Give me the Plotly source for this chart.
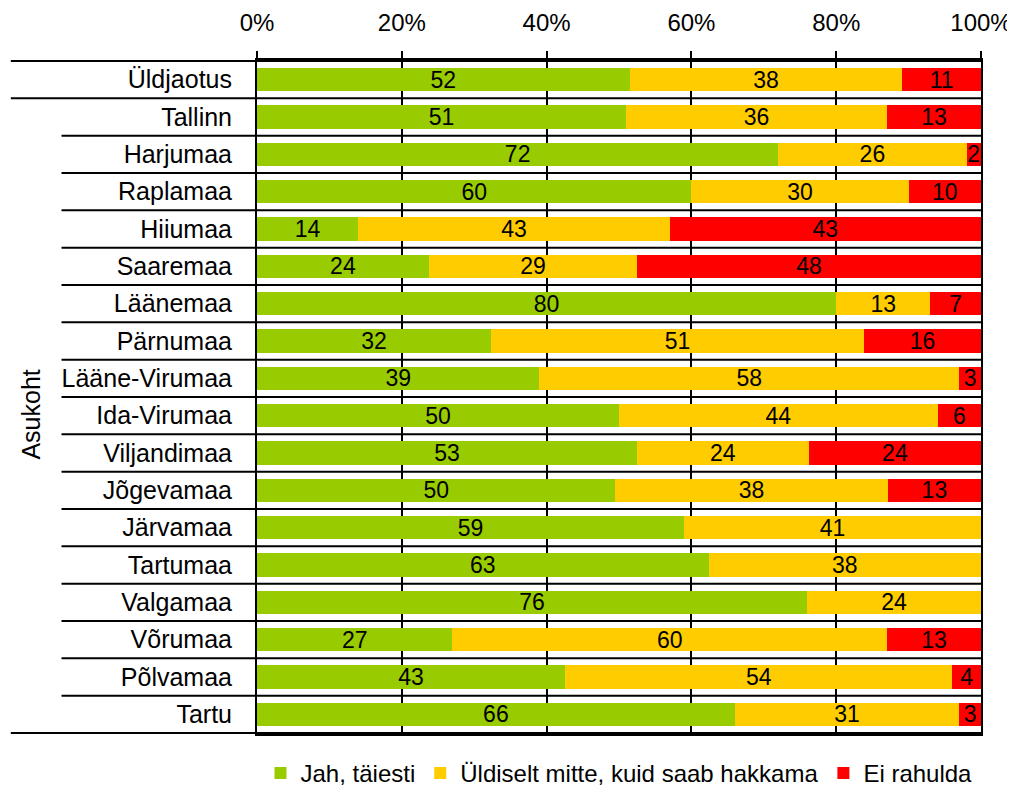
import plotly.graph_objects as go

# data, top to bottom
places = ["Üldjaotus", "Tallinn", "Harjumaa", "Raplamaa", "Hiiumaa", "Saaremaa",
          "Läänemaa", "Pärnumaa", "Lääne-Virumaa", "Ida-Virumaa", "Viljandimaa",
          "Jõgevamaa", "Järvamaa", "Tartumaa", "Valgamaa", "Võrumaa", "Põlvamaa", "Tartu"]
jah = [52, 51, 72, 60, 14, 24, 80, 32, 39, 50, 53, 50, 59, 63, 76, 27, 43, 66]
yldiselt = [38, 36, 26, 30, 43, 29, 13, 51, 58, 44, 24, 38, 41, 38, 24, 60, 54, 31]
ei = [11, 13, 2, 10, 43, 48, 7, 16, 3, 6, 24, 13, 0, 0, 0, 13, 4, 3]

series = [
    ("Jah, täiesti", jah, "#99CC00"),
    ("Üldiselt mitte, kuid saab hakkama", yldiselt, "#FFCC00"),
    ("Ei rahulda", ei, "#FF0000"),
]

FONT = "Liberation Sans, Arial, sans-serif"

fig = go.Figure()
for name, vals, col in series:
    fig.add_trace(go.Bar(
        y=places, x=vals, name=name, orientation="h",
        marker=dict(color=col, line=dict(width=0)),
        text=[str(v) if v else "" for v in vals],
        textposition="inside", insidetextanchor="middle", textangle=0,
        textfont=dict(size=23, color="black", family=FONT),
        constraintext="none",
    ))

# horizontal separator lines (extend into label area)
n = len(places)
shapes = []
for i in range(n + 1):
    long = i in (0, 1, n)
    shapes.append(dict(type="line", xref="paper", yref="y",
                       x0=-0.34 if long else -0.27, x1=1.0,
                       y0=i - 0.5, y1=i - 0.5,
                       line=dict(color="black", width=2), layer="below"))

# page body has an 8px margin, so the figure is shifted by 8px
fig.update_layout(
    barmode="stack", barnorm="percent", bargap=0.38,
    width=1007, height=800,
    margin=dict(l=249, r=34, t=52, b=63),
    plot_bgcolor="white", paper_bgcolor="white",
    font=dict(family=FONT, size=23, color="black"),
    uniformtext=dict(minsize=23, mode="show"),
    shapes=shapes,
    annotations=[dict(text="Asukoht", xref="paper", yref="paper",
                      x=-0.3135, y=0.474, xanchor="center", yanchor="middle",
                      textangle=-90, showarrow=False,
                      font=dict(size=25, family=FONT))],
    showlegend=True,
    legend=dict(orientation="h", x=0.5, xanchor="center", y=-0.092, yanchor="bottom",
                font=dict(size=24, family=FONT), itemwidth=30,
                traceorder="normal", tracegroupgap=0),
    xaxis=dict(side="top", range=[0, 100], dtick=20, ticksuffix="%",
               showgrid=True, gridcolor="black", gridwidth=2,
               showline=True, linecolor="black", linewidth=2, mirror=True,
               ticks="outside", ticklen=7, tickcolor="black", tickwidth=2,
               zeroline=False, tickfont=dict(size=24), automargin=False,
               ticklabelstandoff=10),
    yaxis=dict(autorange="reversed", showgrid=False, showline=True,
               linecolor="black", linewidth=2, mirror=True,
               ticks="", ticklabelstandoff=18, automargin=False,
               tickfont=dict(size=25)),
)

fig.write_html("out.html")
